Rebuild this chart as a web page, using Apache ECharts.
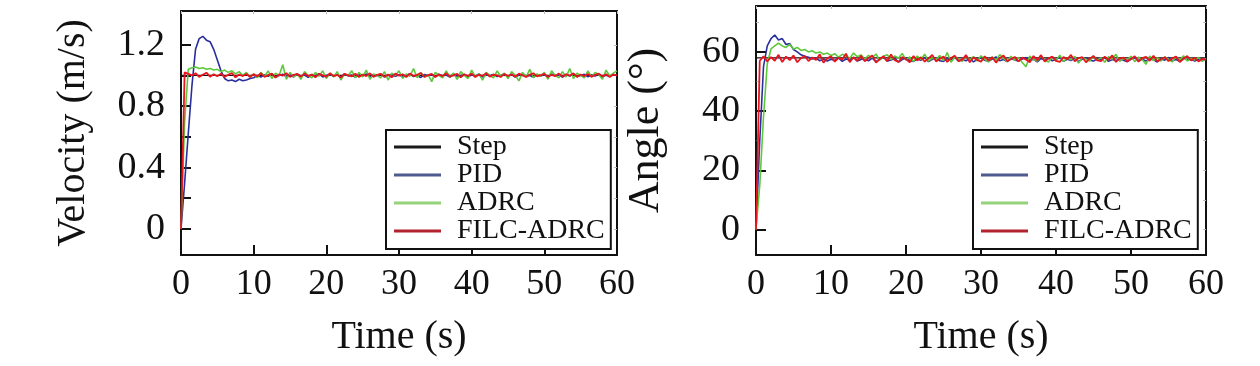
<!DOCTYPE html>
<html>
<head>
<meta charset="utf-8">
<script src="https://cdn.jsdelivr.net/npm/echarts@6/dist/echarts.min.js"></script>
<style>html,body{margin:0;padding:0;background:#fff}#c{width:1260px;height:366px}</style>
</head>
<body>
<div id="c"></div>
<script>
// ---- data ----
const time = [
0,0.5,1,1.5,2,2.5,3,3.5,4,4.5,
5,5.5,6,6.5,7,7.5,8,8.5,9,9.5,
10,10.5,11,11.5,12,12.5,13,13.5,14,14.5,
15,15.5,16,16.5,17,17.5,18,18.5,19,19.5,
20,20.5,21,21.5,22,22.5,23,23.5,24,24.5,
25,25.5,26,26.5,27,27.5,28,28.5,29,29.5,
30,30.5,31,31.5,32,32.5,33,33.5,34,34.5,
35,35.5,36,36.5,37,37.5,38,38.5,39,39.5,
40,40.5,41,41.5,42,42.5,43,43.5,44,44.5,
45,45.5,46,46.5,47,47.5,48,48.5,49,49.5,
50,50.5,51,51.5,52,52.5,53,53.5,54,54.5,
55,55.5,56,56.5,57,57.5,58,58.5,59,59.5,
60];
const stepTime = [0, 0, 60];
const stepVel = [0, 1, 1];
const stepAngle = [0, 58, 58];

const velPID = [
0,0.30,0.62,0.93,1.17,1.24,1.255,1.23,1.22,1.17,
1.10,1.03,0.98,0.965,0.97,0.96,0.975,0.965,0.97,0.98,
0.985,1.0,0.99,1.005,0.995,1.01,0.99,1.0,1.008,0.992,
1.004,0.99,1.01,0.996,1.003,0.988,1.006,0.998,1.012,0.99,
1.0,1.008,0.994,1.004,0.99,1.01,0.997,1.002,0.988,1.006,
0.996,1.01,0.992,1.003,0.998,1.009,0.99,1.0,1.007,0.994,
1.005,0.99,1.002,1.011,0.993,1.0,0.987,1.006,0.998,1.004,
0.992,1.008,0.997,1.003,0.989,1.01,0.995,1.0,1.006,0.991,
1.003,0.996,1.01,0.99,1.004,0.998,1.007,0.993,1.0,1.009,
0.994,1.005,0.99,1.002,1.008,0.995,1.0,0.988,1.006,0.997,
1.004,0.992,1.009,0.998,1.003,0.99,1.006,0.996,1.01,0.993,
1.0,1.007,0.991,1.004,0.997,1.008,0.99,1.002,0.995,1.006,
0.998];
const velADRC = [
0,0.70,1.04,1.05,1.055,1.045,1.05,1.04,1.045,1.035,
1.04,1.025,1.035,1.02,1.03,1.01,1.025,1.0,1.02,0.99,
1.01,0.985,1.02,0.995,1.03,0.98,1.015,1.0,1.07,0.975,
1.02,0.99,1.01,0.975,1.025,1.0,0.985,1.02,0.995,1.03,
0.98,1.015,0.99,1.025,0.97,1.01,1.0,1.03,0.985,1.02,
0.99,1.035,0.975,1.01,1.0,0.985,1.025,0.97,1.015,1.0,
1.03,0.98,1.01,0.995,1.045,0.985,1.02,0.99,1.005,0.96,
1.02,1.0,0.985,1.03,0.99,1.015,0.975,1.025,1.0,0.98,
1.035,0.99,1.01,0.97,1.02,1.0,0.985,1.03,0.995,1.015,
0.98,1.025,1.0,0.965,1.02,0.99,1.04,0.985,1.01,0.995,
1.02,0.975,1.03,1.0,0.985,1.025,0.99,1.045,0.98,1.015,
1.0,0.985,1.03,0.99,1.02,1.005,0.975,1.035,0.995,1.015,
1.03];
const velFILC = [
0,1.02,1.01,1.0,1.015,0.99,1.005,1.018,0.992,1.008,
0.995,1.012,0.99,1.004,1.016,0.988,1.006,0.996,1.01,0.99,
1.008,0.994,1.014,0.99,1.002,1.012,0.986,1.006,0.998,1.015,
0.99,1.004,1.01,0.992,1.012,0.996,1.006,0.988,1.01,1.0,
0.992,1.014,0.996,1.004,0.986,1.01,1.0,0.994,1.012,0.99,
1.006,0.996,1.014,0.99,1.004,1.01,0.992,1.006,0.988,1.012,
0.998,1.008,0.99,1.012,0.996,1.004,1.016,0.99,1.002,1.01,
0.99,1.006,0.996,1.014,0.992,1.0,1.01,0.988,1.008,0.996,
1.012,0.99,1.004,0.998,1.014,0.992,1.006,1.0,0.99,1.01,
0.996,1.008,0.992,1.012,1.0,0.99,1.006,1.014,0.994,1.002,
1.01,0.99,1.004,0.996,1.012,0.992,1.008,0.998,1.014,0.99,
1.006,0.996,1.01,0.992,1.004,1.012,0.994,1.008,0.99,1.006,
1.0];

const angPID = [
0,30,55,62,64.5,65.7,64,64.5,62.5,62.8,
60.8,60,59,58.5,58.2,57.6,57.9,57,57.6,56.9,
57.5,57.1,58,56.8,57.6,57.2,58.1,56.9,57.4,57.8,
57,57.9,56.7,57.5,58.2,56.9,57.3,57.8,56.6,57.4,
58,57.1,56.8,57.6,57.2,58.1,56.7,57.5,57.9,57,
56.8,57.7,57.3,58.2,56.9,57.4,57,57.8,56.6,57.5,
57.9,57.2,56.8,57.6,58.3,57,57.4,56.7,57.8,57.3,
56.9,57.6,58.1,57.1,57.5,56.6,57.8,57.2,57.9,57,
57.4,58.2,56.8,57.5,57.1,57.9,56.7,57.6,58,57.2,
56.9,57.7,57.3,58.1,56.8,57.4,57,57.8,57.2,56.7,
57.6,58,57.1,57.5,56.9,57.8,57.3,56.6,57.7,57.2,
58.1,57,57.4,56.8,57.9,57.3,57.6,56.9,57.5,57.8,
57.2];
const angADRC = [
0,15,38,56,61,62,63,62,61.5,62.5,
61,61.5,60.5,60.8,60,60.4,59.6,60,59.2,59.6,
58.8,59.4,58.2,59.2,58.6,57.8,59.6,58.4,59,57.6,
58.8,58,59.3,57.2,58.5,59,57.4,58.6,57.9,59.5,
57.2,58.3,56.8,58.6,57.5,59.2,56.9,58,57.4,58.8,
57,59.8,56.5,58.2,57.6,56.8,58.9,57.3,58.4,56.9,
58.7,57.5,56.6,58.3,57.1,59.1,57.8,56.7,58.5,57.2,
58.1,56.4,55,58.6,57.4,56.9,58.8,57.2,56.6,58.4,
57,58.9,56.8,57.9,57.3,58.5,56.2,58.1,57.5,56.9,
58.6,57.2,58,56.5,58.4,57.6,59.2,56.8,57.9,57.3,
58.5,56.7,58.2,57.4,55.8,58.6,57.1,58,56.9,58.3,
57.5,56.6,58.4,57.2,58.7,56.9,57.8,57.3,58.1,56.8,
57.8];
const angFILC = [
0,57,58.5,56.8,58.2,57,59,56.6,58.4,57.2,
58.8,56.5,57.9,58.6,56.9,58.1,57.3,59.2,56.4,57.8,
58.5,56.7,58,57.4,59.4,56.5,58.2,57,58.7,56.8,
57.9,58.8,56.4,57.6,58.5,56.9,59.1,57.2,56.6,58.3,
57.5,56.5,58.6,57.1,58.2,56.7,57.8,59,56.8,57.6,
58.4,56.6,57.9,58.7,56.9,57.4,58.9,56.5,58.1,57.3,
56.7,58.5,57.1,58.2,56.4,57.9,58.8,56.9,57.5,58.3,
56.8,58.1,57.4,56.5,58.6,57.2,58.9,56.7,57.8,58.4,
57,56.6,58.3,57.5,59,56.8,57.9,58.2,56.5,57.7,
58.6,57.1,56.9,58.4,57.3,58.8,56.6,57.8,58.1,56.8,
57.6,58.5,56.7,57.9,58.3,57,58.7,56.8,57.5,58.2,
56.9,57.8,58.4,56.6,57.7,58.6,57.1,58,56.8,57.6,
57.4];

const velTicks = [0,0.2,0.4,0.6,0.8,1.0,1.2];
const velLabels = [0,0.4,0.8,1.2];
const angTicksMajor = [0,20,40,60];
const angTicksMinor = [10,30,50,70];
const angTicksAll = [0,10,20,30,40,50,60,70];
const legendNames = ['Step','PID','ADRC','FILC-ADRC'];

// ---- styles ----
const FONT = 'Liberation Serif';
const INK = '#111';
const COL = {Step:'#111111', PID:'#2a2f9e', ADRC:'#5ec83c', 'FILC-ADRC':'#e8141e'};
const LEGCOL = {Step:'#1a1a1a', PID:'#4f5b8e', ADRC:'#95d27a', 'FILC-ADRC':'#b3232e'};

function pairs(xs, ys){ return xs.map((x,i)=>[x, ys[i]]); }

function xAxes(gi){
  return [
    {gridIndex:gi, type:'value', min:0, max:60, interval:10, position:'bottom',
     axisLine:{show:true, onZero:false, lineStyle:{color:INK, width:2}},
     axisTick:{show:true, inside:true, length:10, lineStyle:{color:INK, width:2}},
     axisLabel:{show:true, color:INK, fontFamily:FONT, fontSize:36, margin:12},
     splitLine:{show:false},
     name:'Time (s)', nameLocation:'middle', nameGap:62,
     nameTextStyle:{color:INK, fontFamily:FONT, fontSize:40}},
    {gridIndex:gi, type:'value', min:0, max:60, interval:10, position:'top',
     axisLine:{show:true, onZero:false, lineStyle:{color:INK, width:2}},
     axisTick:{show:true, inside:true, length:3, lineStyle:{color:'#bbb', width:1}},
     axisLabel:{show:false}, splitLine:{show:false}}
  ];
}

function yAxes(gi, min, max, ticks, labels, name, nameSize, minor, all){
  const arr = [
    {gridIndex:gi, type:'value', min:min, max:max, position:'left',
     axisLine:{show:true, onZero:false, lineStyle:{color:INK, width:2}},
     axisTick:{show:true, inside:true, length:10, customValues:ticks, lineStyle:{color:INK, width:2}},
     axisLabel:{show:true, customValues:labels, color:INK, fontFamily:FONT, fontSize:38, margin:16},
     splitLine:{show:false},
     name:name, nameLocation:'middle', nameGap:88,
     nameTextStyle:{color:INK, fontFamily:FONT, fontSize:nameSize}},
    {gridIndex:gi, type:'value', min:min, max:max, position:'right',
     axisLine:{show:true, onZero:false, lineStyle:{color:INK, width:2}},
     axisTick:{show:true, inside:true, length:3, customValues:all, lineStyle:{color:'#bbb', width:1}},
     axisLabel:{show:false}, splitLine:{show:false}}
  ];
  if (minor) {
    arr.push({gridIndex:gi, type:'value', min:min, max:max, position:'left',
     axisLine:{show:false, onZero:false},
     axisTick:{show:true, inside:true, length:3, customValues:minor, lineStyle:{color:'#bbb', width:1}},
     axisLabel:{show:false}, splitLine:{show:false}});
  }
  return arr;
}

function line(name, xi, yi, data, w){
  return {name:name, type:'line', xAxisIndex:xi, yAxisIndex:yi, data:data,
    showSymbol:false, symbol:'none', clip:true,
    lineStyle:{color:COL[name], width:w}, itemStyle:{color:COL[name]}};
}

function legend(left){
  return {left:left, top:130, orient:'vertical', selectedMode:false,
    padding:[3,6,4,8], itemGap:0, itemWidth:47, itemHeight:3,
    borderColor:INK, borderWidth:2, backgroundColor:'#fff',
    textStyle:{fontFamily:FONT, fontSize:28, lineHeight:27, color:INK, padding:[0,0,0,11]},
    data: legendNames.map(n=>({name:n, icon:'rect', itemStyle:{color:LEGCOL[n]}}))};
}

const yL = yAxes(0, -0.17, 1.42, velTicks, velLabels, 'Velocity (m/s)', 40, null, velTicks);
const yR = yAxes(1, -8.6, 75.5, angTicksMajor, angTicksMajor, 'Angle (°)', 44, angTicksMinor, angTicksAll);
const option = {
  animation:false,
  backgroundColor:'#fff',
  grid:[
    {left:181, top:11, width:436, height:244},
    {left:756, top:6, width:450, height:249}
  ],
  xAxis: xAxes(0).concat(xAxes(1)),
  yAxis: yL.concat(yR),
  legend:[legend(386), legend(973)],
  series:[
    line('Step', 0, 0, pairs(stepTime, stepVel), 1.2),
    line('PID', 0, 0, pairs(time, velPID), 1.6),
    line('ADRC', 0, 0, pairs(time, velADRC), 1.6),
    line('FILC-ADRC', 0, 0, pairs(time, velFILC), 1.8),
    line('Step', 2, 2, pairs(stepTime, stepAngle), 1.2),
    line('PID', 2, 2, pairs(time, angPID), 1.6),
    line('ADRC', 2, 2, pairs(time, angADRC), 1.6),
    line('FILC-ADRC', 2, 2, pairs(time, angFILC), 1.8)
  ]
};
const chart = echarts.init(document.getElementById('c'), null, {renderer:'canvas'});
chart.setOption(option);
</script>
</body>
</html>
